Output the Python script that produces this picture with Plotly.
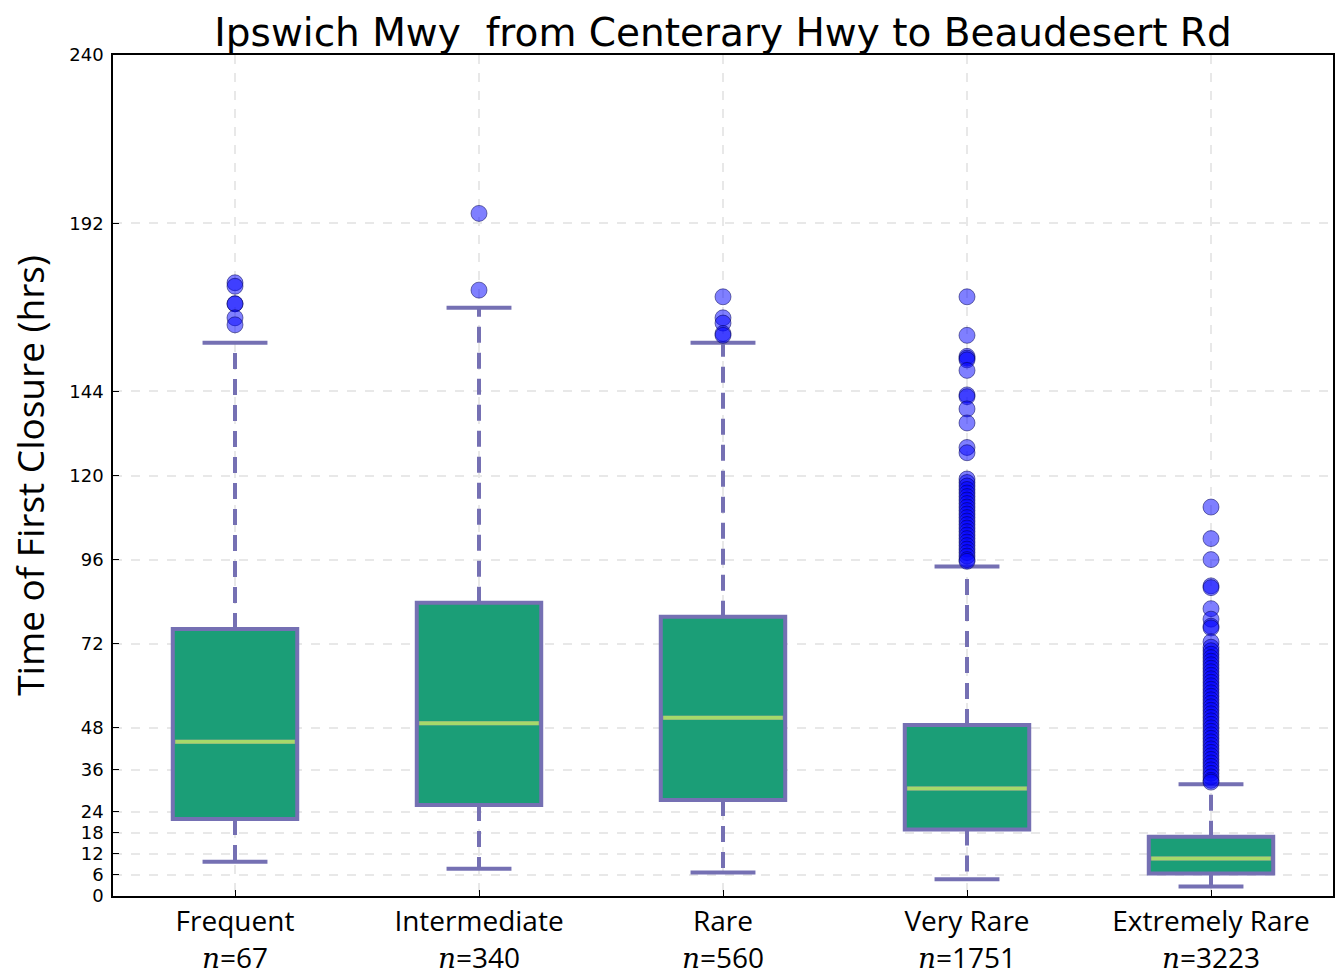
import plotly.graph_objects as go

categories = ["Frequent", "Intermediate", "Rare", "Very Rare", "Extremely Rare"]
n_counts = [67, 340, 560, 1751, 3223]
q1 = [22, 26, 27.4, 19, 6.4]
median = [44, 49.3, 50.9, 30.7, 10.7]
q3 = [76.2, 83.7, 79.7, 48.8, 16.9]
whisker_low = [9.8, 7.8, 6.7, 4.8, 2.7]
whisker_high = [157.9, 167.9, 157.9, 94, 31.9]

outliers_frequent = [175, 174, 169, 169, 165, 163]
outliers_intermediate = [194.8, 172.9]
outliers_rare = [171, 165, 163.5, 160.5, 160]
outliers_very_rare = [171, 160, 154, 153.5, 153, 150, 143, 142.5, 139, 135, 128, 126.5,
                      119, 118, 117, 116, 115, 114, 113, 112, 111, 110, 109, 108, 107,
                      106, 105, 104, 103, 102, 101, 100, 99, 98, 97, 96, 95.5]
outliers_extremely_rare = [111, 102, 96, 88.5, 88, 82, 79, 77, 76.5, 72.5, 71, 70, 69,
                           68, 67, 66, 65, 64, 63, 62, 61, 60, 59, 58, 57, 56, 55, 54,
                           53, 52, 51, 50, 49, 48, 47, 46, 45, 44, 43, 42, 41, 40, 39,
                           38, 37, 36, 35, 34, 33, 32.5]
outliers = [outliers_frequent, outliers_intermediate, outliers_rare,
            outliers_very_rare, outliers_extremely_rare]

ytick_vals = [0, 6, 12, 18, 24, 36, 48, 72, 96, 120, 144, 192, 240]

BOX_FILL = "#1b9e77"
EDGE = "#7570b3"
MED = "#a6d96a"
BOX_W = 0.51
CAP_HW = 0.133

fig = go.Figure()

for i, cat in enumerate(categories):
    # whiskers (dashed)
    fig.add_trace(go.Scatter(x=[i, i], y=[q3[i], whisker_high[i]], mode="lines",
                             line=dict(color=EDGE, width=4, dash="16px,10px"),
                             showlegend=False, hoverinfo="skip"))
    fig.add_trace(go.Scatter(x=[i, i], y=[q1[i], whisker_low[i]], mode="lines",
                             line=dict(color=EDGE, width=4, dash="16px,10px"),
                             showlegend=False, hoverinfo="skip"))
    # caps
    for v in (whisker_low[i], whisker_high[i]):
        fig.add_trace(go.Scatter(x=[i - CAP_HW, i + CAP_HW], y=[v, v], mode="lines",
                                 line=dict(color=EDGE, width=4),
                                 showlegend=False, hoverinfo="skip"))
    # box
    fig.add_trace(go.Box(x=[i], q1=[q1[i]], median=[median[i]], q3=[q3[i]],
                         lowerfence=[q1[i]], upperfence=[q3[i]],
                         width=BOX_W, fillcolor=BOX_FILL,
                         line=dict(color=EDGE, width=4), boxpoints=False,
                         showlegend=False))
    # median
    fig.add_trace(go.Scatter(x=[i - BOX_W / 2 + 0.01, i + BOX_W / 2 - 0.01],
                             y=[median[i], median[i]], mode="lines",
                             line=dict(color=MED, width=4),
                             showlegend=False, hoverinfo="skip"))
    # outliers
    fig.add_trace(go.Scatter(x=[i] * len(outliers[i]), y=outliers[i], mode="markers",
                             marker=dict(size=16, color="rgba(0,0,255,0.5)",
                                         line=dict(color="rgba(0,0,80,0.5)", width=1)),
                             showlegend=False))

ticktext = [f"{c}<br><span style=\"font-family:'DejaVu Serif';font-style:italic\">n</span>={n}"
            for c, n in zip(categories, n_counts)]

fig.update_layout(
    width=1335, height=977,
    margin=dict(l=113, r=2, t=55, b=81, autoexpand=False),
    plot_bgcolor="white", paper_bgcolor="white",
    title=dict(text="Ipswich Mwy  from Centerary Hwy to Beaudesert Rd",
               x=0.5416, xanchor="center", y=0.967, yanchor="middle",
               font=dict(family="DejaVu Sans", size=39, color="black")),
    xaxis=dict(range=[-0.5, 4.5], tickmode="array", tickvals=list(range(len(categories))),
               ticktext=ticktext, tickfont=dict(family="Open Sans", size=28, color="black"),
               showline=True, linecolor="black", linewidth=1.5, mirror=True,
               ticks="inside", ticklen=6, tickcolor="black",
               showgrid=True, gridcolor="#e8e8e8", gridwidth=1.5, griddash="dash",
               zeroline=False),
    yaxis=dict(range=[0, 240], tickmode="array", tickvals=ytick_vals,
               tickfont=dict(family="DejaVu Sans", size=18, color="black"),
               ticklabelstandoff=4,
               showline=True, linecolor="black", linewidth=1.5, mirror=True,
               ticks="inside", ticklen=6, tickcolor="black",
               showgrid=True, gridcolor="#e8e8e8", gridwidth=1.5, griddash="dash",
               zeroline=False,
               title=dict(text="Time of First Closure (hrs)",
                          font=dict(family="Open Sans", size=37, color="black"),
                          standoff=13)),
)

fig.write_html("out.html", config={"displayModeBar": False},
               post_script="document.body.style.margin='0';document.body.style.overflow='hidden';")
